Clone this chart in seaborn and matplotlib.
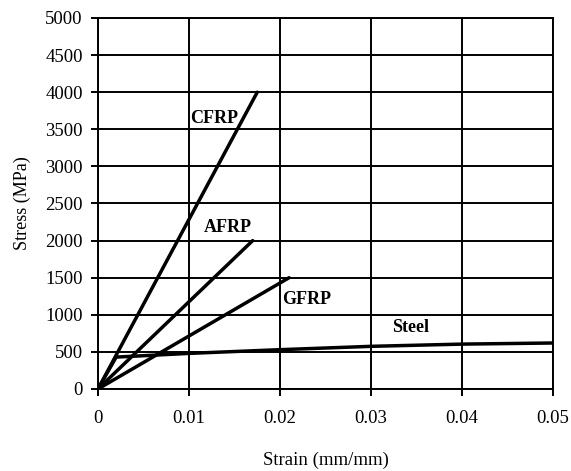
import matplotlib
matplotlib.use("Agg")
import matplotlib.pyplot as plt
import seaborn as sns
import pandas as pd

# Stress-strain data for reinforcement materials
cfrp_strain = [0.0, 0.0175]
cfrp_stress = [0, 4000]
afrp_strain = [0.0, 0.017]
afrp_stress = [0, 2000]
gfrp_strain = [0.0, 0.021]
gfrp_stress = [0, 1500]
steel_strain = [0.0, 0.002, 0.01, 0.02, 0.03, 0.04, 0.05]
steel_stress = [0, 430, 480, 530, 575, 605, 620]

x_ticks = [0, 0.01, 0.02, 0.03, 0.04, 0.05]
x_tick_labels = ["0", "0.01", "0.02", "0.03", "0.04", "0.05"]
y_ticks = list(range(0, 5001, 500))

frames = []
for name, xs, ys in [("CFRP", cfrp_strain, cfrp_stress),
                     ("AFRP", afrp_strain, afrp_stress),
                     ("GFRP", gfrp_strain, gfrp_stress),
                     ("Steel", steel_strain, steel_stress)]:
    frames.append(pd.DataFrame({"strain": xs, "stress": ys, "material": name}))
df = pd.concat(frames, ignore_index=True)

sns.set_theme(style="white")
plt.rcParams["font.family"] = ["Liberation Serif", "DejaVu Serif"]

fig = plt.figure(figsize=(5.71, 4.71), dpi=100)
ax = fig.add_axes([0.1716, 0.1741, 0.7969, 0.7877])

ax.grid(True, color="black", linewidth=1.4)
ax.set_axisbelow(True)

sns.lineplot(data=df, x="strain", y="stress", units="material", estimator=None,
             sort=False, color="black", linewidth=2.5, ax=ax, legend=False)

ax.set_xlim(0, 0.05)
ax.set_ylim(0, 5000)
ax.set_xticks(x_ticks)
ax.set_xticklabels(x_tick_labels)
ax.set_yticks(y_ticks)
ax.tick_params(axis="both", which="major", direction="out", length=5, width=1.4,
               color="black", labelsize=13.5, labelcolor="black")
ax.tick_params(axis="x", pad=10)
ax.tick_params(axis="y", pad=6)
ax.xaxis.set_ticks_position("bottom")
ax.yaxis.set_ticks_position("left")

for side in ["left", "bottom", "top", "right"]:
    ax.spines[side].set_visible(True)
    ax.spines[side].set_color("black")
    ax.spines[side].set_linewidth(1.4)

ax.set_xlabel("Strain (mm/mm)", fontsize=13.5, color="black", labelpad=18)
ax.set_ylabel("Stress (MPa)", fontsize=13, color="black", labelpad=10)

label_kw = dict(fontsize=13, fontweight="bold", color="black", va="center")
ax.text(0.0101, 3640, "CFRP", ha="left", **label_kw)
ax.text(0.0116, 2170, "AFRP", ha="left", **label_kw)
ax.text(0.0202, 1200, "GFRP", ha="left", **label_kw)
ax.text(0.0343, 835, "Steel", ha="center", **label_kw)

fig.savefig("out.png", dpi=100, facecolor="white")
